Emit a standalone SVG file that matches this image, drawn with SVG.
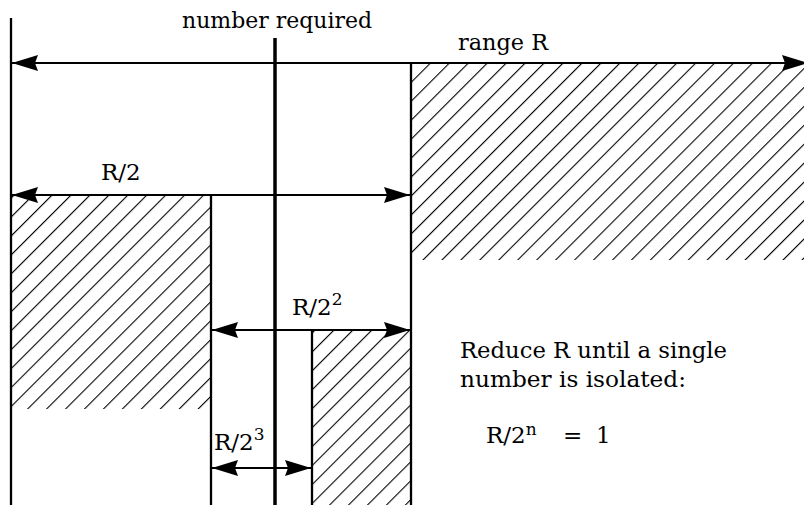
<svg xmlns="http://www.w3.org/2000/svg" width="804" height="505" viewBox="0 0 804 505">
<style>
  .lbl { font-family: 'DejaVu Serif', serif; font-size: 23px; fill: #000; }
  .sup { font-size: 17px; }
  .edge { stroke: #000; stroke-width: 2.3; fill: none; }
  .thick { stroke: #000; stroke-width: 3.5; fill: none; }
  .arrow { stroke: #000; stroke-width: 2.2; fill: none; marker-start: url(#ah); marker-end: url(#ah); }
</style>
<defs>
  <pattern id="hatch" patternUnits="userSpaceOnUse" width="13.4" height="13.4" patternTransform="rotate(45)">
    <rect x="-1.1" y="0" width="2.2" height="13.4" fill="#000"/>
  </pattern>
  <marker id="ah" viewBox="0 0 26 16" refX="26" refY="8" markerWidth="26" markerHeight="16" markerUnits="userSpaceOnUse" orient="auto-start-reverse">
    <path d="M0,0 L26,8 L0,16 L3,8 Z" fill="#000"/>
  </marker>
</defs>
<rect width="804" height="505" fill="#fff"/>

<g id="hatched-regions">
  <rect id="discard-upper" x="411" y="64" width="393" height="196" fill="url(#hatch)"/>
  <rect id="discard-left" x="11" y="195" width="200" height="214" fill="url(#hatch)"/>
  <rect id="discard-lower" x="312" y="330" width="99" height="175" fill="url(#hatch)"/>
</g>

<g id="boundaries">
  <line id="left-bound" class="edge" x1="11" y1="18" x2="11" y2="505"/>
  <line id="number-required-line" class="thick" x1="275" y1="38" x2="275" y2="505"/>
  <line id="mid-bound" class="edge" x1="411" y1="63" x2="411" y2="505"/>
  <line id="quarter-bound" class="edge" x1="211" y1="195" x2="211" y2="505"/>
  <line id="eighth-bound" class="edge" x1="312" y1="330" x2="312" y2="505"/>
</g>

<g id="connectors">
  <line id="range-R" class="arrow" x1="12" y1="63" x2="808" y2="63"/>
  <line id="range-R2" class="arrow" x1="12" y1="195" x2="410" y2="195"/>
  <line id="range-R4" class="arrow" x1="212" y1="330" x2="410" y2="330"/>
  <line id="range-R8" class="arrow" x1="212" y1="468" x2="311" y2="468"/>
</g>

<g id="labels">
  <text id="t-number-required" class="lbl" x="182" y="28" textLength="190" lengthAdjust="spacingAndGlyphs">number required</text>
  <text id="t-range" class="lbl" x="458" y="50" textLength="90" lengthAdjust="spacingAndGlyphs">range R</text>
  <text id="t-r2" class="lbl" x="101" y="180">R/2</text>
  <text id="t-r4" class="lbl" x="292" y="315">R/2<tspan class="sup" dy="-10">2</tspan></text>
  <text id="t-r8" class="lbl" x="214" y="450">R/2<tspan class="sup" dy="-10">3</tspan></text>
  <text id="t-note1" class="lbl" x="460" y="358" textLength="267" lengthAdjust="spacingAndGlyphs">Reduce R until a single</text>
  <text id="t-note2" class="lbl" x="460" y="387" textLength="226" lengthAdjust="spacingAndGlyphs">number is isolated:</text>
  <text id="t-formula" class="lbl" x="486" y="443">R/2<tspan class="sup" dy="-8">n</tspan><tspan dy="8" x="563">=</tspan><tspan x="596">1</tspan></text>
</g>
</svg>
